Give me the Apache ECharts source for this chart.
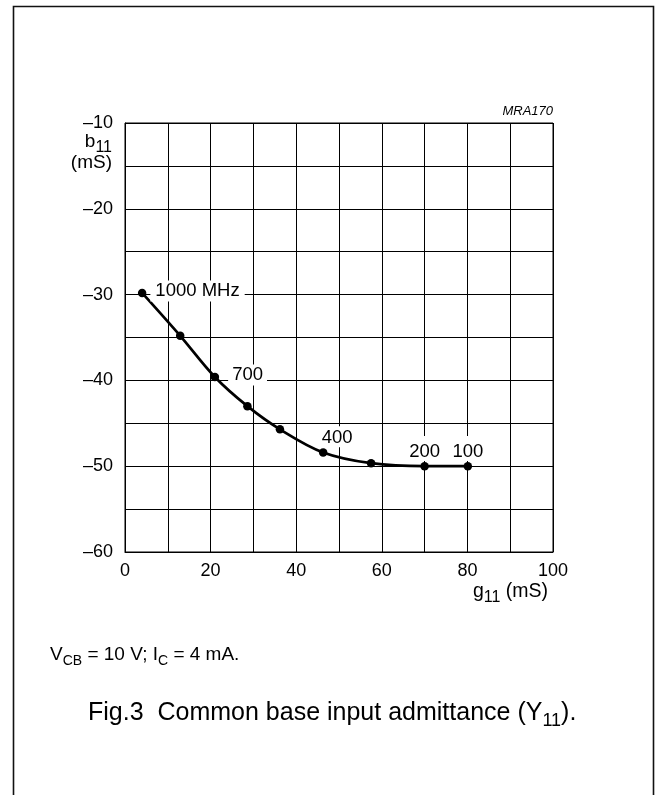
<!DOCTYPE html>
<html><head><meta charset="utf-8">
<script src="https://cdn.jsdelivr.net/npm/echarts@6/dist/echarts.min.js"></script>
<style>html,body{margin:0;padding:0;background:#fff}#c{width:655px;height:795px}</style>
</head><body><div id="c"></div>
<script>
// ---- data ----
const gValues = [4.0, 12.9, 21.0, 28.6, 36.2, 46.3, 57.5, 70.0, 80.1];        // g11 (mS)
const bValues = [-29.8, -34.8, -39.6, -43.0, -45.7, -48.4, -49.65, -50.0, -50.0]; // b11 (mS)
const pointLabels = ['1000 MHz', '', '700', '', '', '400', '', '200', '100'];
const xTickLabels = [0, 20, 40, 60, 80, 100];
const yTickLabels = [-10, -20, -30, -40, -50, -60];

const FONT = '"Liberation Sans", Arial, Helvetica, sans-serif';

const labelStyles = {
  '1000 MHz': {position: 'right', distance: 4, offset: [0, -2], padding: [1, 5, 1, 5]},
  '700': {position: 'right', distance: 9, offset: [0, -2], padding: [1, 4, 1, 4]},
  '400': {position: 'top', distance: 1, offset: [14, 0], padding: [2, 3, 0, 3]},
  '200': {position: 'top', distance: 1, offset: [0, 0], padding: [6, 3, 0, 3]},
  '100': {position: 'top', distance: 1, offset: [0, 0], padding: [6, 3, 0, 3]}
};

const seriesData = gValues.map((g, i) => {
  const lab = pointLabels[i];
  const item = {value: [g, bValues[i]]};
  if (lab) {
    item.label = Object.assign({show: true, formatter: lab, backgroundColor: '#fff',
      color: '#000', fontSize: 18.5, fontFamily: FONT}, labelStyles[lab]);
  }
  return item;
});

const chart = echarts.init(document.getElementById('c'), null, {renderer: 'canvas'});
chart.setOption({
  animation: false,
  backgroundColor: '#fff',
  grid: {left: 125, top: 123, width: 428, height: 429, show: true,
         borderColor: '#000', borderWidth: 1, backgroundColor: 'transparent',
         outerBoundsMode: 'none', containLabel: false},
  xAxis: {
    type: 'value', min: 0, max: 100, interval: 10,
    axisLine: {show: true, lineStyle: {color: '#000', width: 1}},
    axisTick: {show: false},
    splitLine: {show: true, lineStyle: {color: '#000', width: 1}},
    axisLabel: {margin: 10, color: '#000', fontSize: 18, fontFamily: FONT,
      formatter: v => xTickLabels.includes(v) ? String(v) : ''}
  },
  yAxis: {
    type: 'value', min: -60, max: -10, interval: 5,
    axisLine: {show: true, lineStyle: {color: '#000', width: 1}},
    axisTick: {show: false},
    splitLine: {show: true, lineStyle: {color: '#000', width: 1}},
    axisLabel: {margin: 12, color: '#000', fontSize: 18, fontFamily: FONT,
      formatter: v => yTickLabels.includes(v) ? '\u2013' + Math.abs(v) : ''}
  },
  series: [{
    type: 'line', data: seriesData, smooth: 0.35,
    symbol: 'circle', symbolSize: 8.5,
    lineStyle: {color: '#000', width: 2.7},
    itemStyle: {color: '#000'},
    label: {show: false},
    z: 5
  }],
  graphic: [
    {type: 'rect', shape: {x: 13.5, y: 6.5, width: 640, height: 820},
     style: {fill: 'none', stroke: '#111', lineWidth: 1.6}, silent: true},
    {type: 'text', x: 553, y: 111, style: {text: 'MRA170', fontSize: 13, fontStyle: 'italic',
      fontFamily: FONT, fill: '#000', align: 'right', verticalAlign: 'middle'}},
    {type: 'text', x: 112, y: 142, style: {text: 'b{s|11}', fontSize: 19, fontFamily: FONT,
      fill: '#000', align: 'right', verticalAlign: 'middle',
      rich: {s: {fontSize: 16, fontFamily: FONT, fill: '#000', padding: [12, 0, 0, 0]}}}},
    {type: 'text', x: 112, y: 163, style: {text: '(mS)', fontSize: 19, fontFamily: FONT,
      fill: '#000', align: 'right', verticalAlign: 'middle'}},
    {type: 'text', x: 548, y: 592, style: {text: 'g{s|11} (mS)', fontSize: 19.5, fontFamily: FONT,
      fill: '#000', align: 'right', verticalAlign: 'middle',
      rich: {s: {fontSize: 16, fontFamily: FONT, fill: '#000', padding: [12, 0, 0, 0]}}}},
    {type: 'text', x: 50, y: 655, style: {text: 'V{s|CB} = 10 V; I{s|C} = 4 mA.', fontSize: 19,
      fontFamily: FONT, fill: '#000', align: 'left', verticalAlign: 'middle',
      rich: {s: {fontSize: 14, fontFamily: FONT, fill: '#000', padding: [12, 0, 0, 0]}}}},
    {type: 'text', x: 88, y: 713, style: {text: 'Fig.3  Common base input admittance (Y{s|11}).',
      fontSize: 25, fontFamily: FONT, fill: '#000', align: 'left', verticalAlign: 'middle',
      rich: {s: {fontSize: 18, fontFamily: FONT, fill: '#000', padding: [16, 0, 0, 0]}}}}
  ]
});
</script></body></html>
